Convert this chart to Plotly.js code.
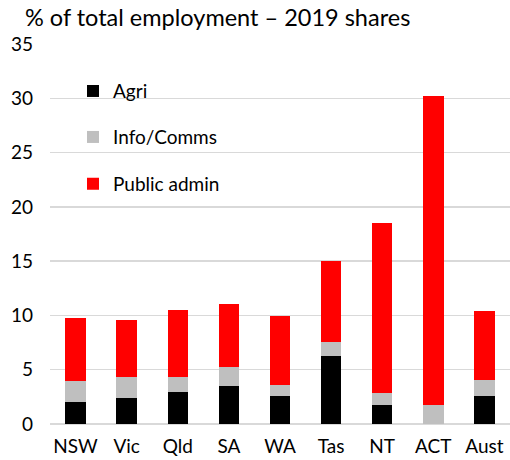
<!DOCTYPE html>
<html>
<head>
<meta charset="utf-8">
<script src="https://cdn.plot.ly/plotly-3.0.1.min.js"></script>
<style>html,body{margin:0;padding:0;background:#fff;}</style>
</head>
<body>
<div id="chart" style="width:510px;height:460px;"></div>
<script>
var categories = ["NSW", "Vic", "Qld", "SA", "WA", "Tas", "NT", "ACT", "Aust"];
var agri = [2.03, 2.44, 2.98, 3.54, 2.62, 6.28, 1.71, 0.0, 2.60];
var infoComms = [1.90, 1.85, 1.31, 1.67, 0.94, 1.31, 1.12, 1.74, 1.48];
var publicAdmin = [5.82, 5.28, 6.19, 5.82, 6.43, 7.41, 15.72, 28.51, 6.32];
var yTicks = [0, 5, 10, 15, 20, 25, 30, 35];

var font = "Lato, 'Open Sans', sans-serif";
var traces = [
  {type: "bar", name: "Agri", x: categories, y: agri, marker: {color: "#000000"}, legend: "legend"},
  {type: "bar", name: "Info/Comms", x: categories, y: infoComms, marker: {color: "#bfbfbf"}, legend: "legend2"},
  {type: "bar", name: "Public admin", x: categories, y: publicAdmin, marker: {color: "#ff0000"}, legend: "legend3"}
];
function leg(y) {
  return {x: 0.05, y: y, xanchor: "left", yanchor: "middle", bgcolor: "rgba(0,0,0,0)", font: {size: 19}, itemwidth: 30, borderwidth: 0};
}
var layout = {
  width: 510, height: 460,
  margin: {l: 50, r: 0, t: 44, b: 36},
  barmode: "stack",
  bargap: 0.6,
  paper_bgcolor: "#ffffff",
  plot_bgcolor: "#ffffff",
  font: {family: font, size: 19, color: "#000000"},
  title: {text: "% of total employment \u2013 2019 shares", xref: "container", x: 0.049, xanchor: "left", y: 0.962, yanchor: "middle", font: {family: font, size: 23.5, color: "#000"}},
  showlegend: true,
  legend: leg(0.876),
  legend2: leg(0.755),
  legend3: leg(0.632),
  xaxis: {type: "category", showgrid: false, showline: false, ticks: "", tickfont: {size: 19}, ticklabelstandoff: 9},
  yaxis: {range: [0, 35], tickvals: yTicks, showgrid: true, gridcolor: "#d9d9d9", gridwidth: 1.5, zeroline: true, zerolinecolor: "#d9d9d9", zerolinewidth: 2, showline: false, ticks: "", tickfont: {size: 19}, ticklabelstandoff: 16}
};
Plotly.newPlot("chart", traces, layout, {displayModeBar: false, staticPlot: true});
</script>
</body>
</html>
